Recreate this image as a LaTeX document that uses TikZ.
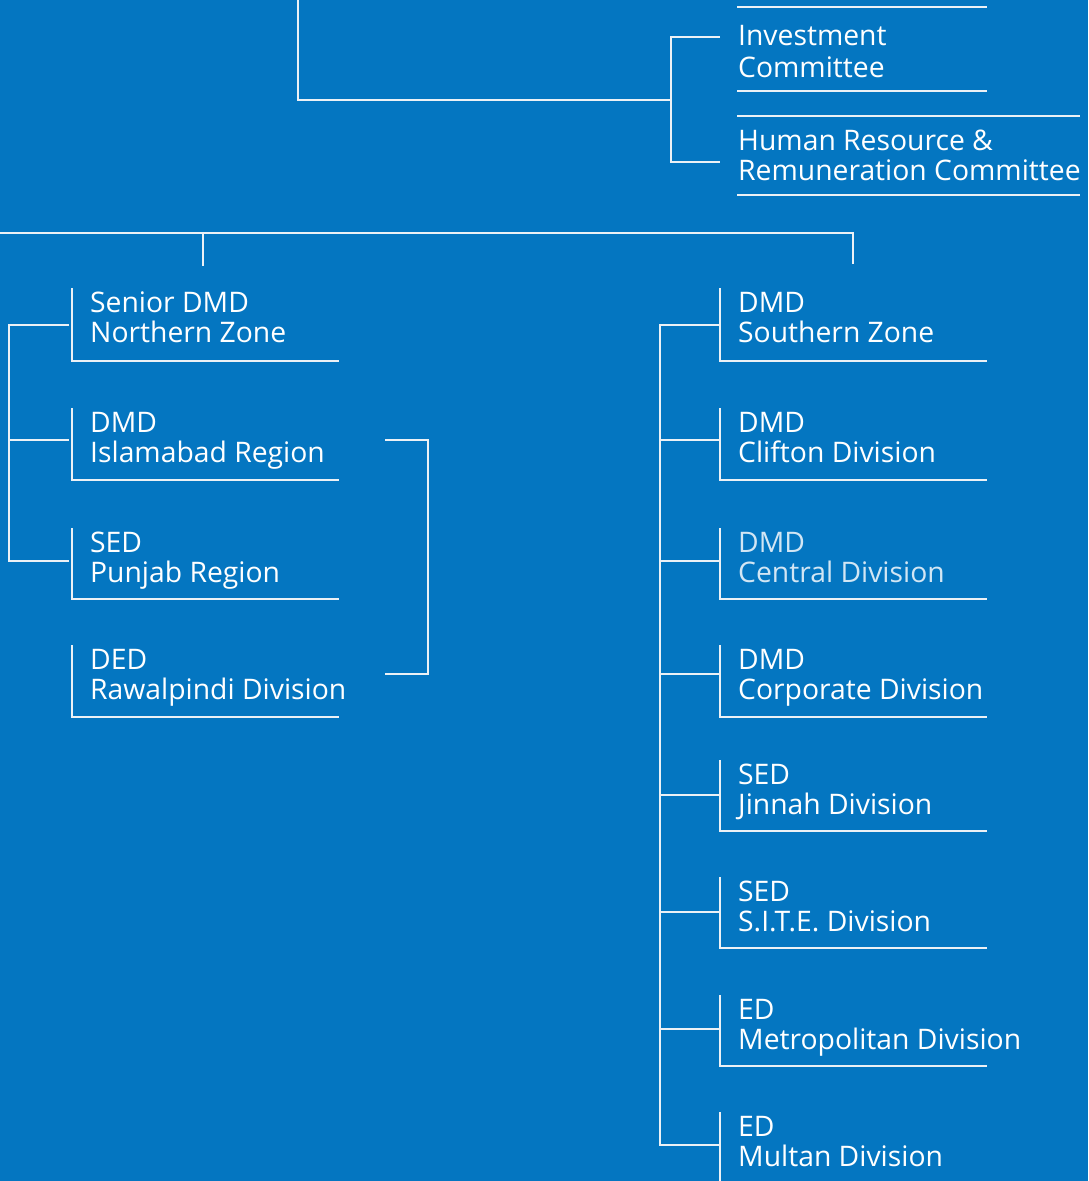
\documentclass[tikz,border=0pt]{standalone}
\usepackage{fontspec}
\setmainfont{Open Sans}
\definecolor{bg}{RGB}{4,118,193}
\definecolor{wirecol}{RGB}{236,241,246}
\tikzset{
  x=1pt, y=-1pt,
  wire/.style={draw=wirecol, line width=1.9pt},
  unitbox/.style={anchor=north west, inner sep=0pt, outer sep=0pt, rectangle, draw=none},
  txtline/.style={anchor=base west, inner sep=0pt, text=white, font=\fontsize{28.3}{30}\selectfont},
}
% name, x, top, bottom, right, connector offset, line1, line2
\newcommand\orgunit[8]{%
  \node[unitbox, minimum width={(#5-#2)*1pt}, minimum height={(#4-#3)*1pt}] (#1) at (#2,#3) {};
  \draw[wire] (#1.north west) |- (#1.south east);
  \coordinate (#1-c) at ([yshift=-#6pt]#1.north west);
  \node[txtline] (#1-a) at ([xshift=18pt,yshift=-24pt]#1.north west) {#7};
  \node[txtline] (#1-b) at ([xshift=18pt,yshift=-54pt]#1.north west) {#8};
}
% name, x, top, bottom, right, off1, off2, line1, line2
\newcommand\committee[9]{%
  \node[unitbox, minimum width={(#5-#2)*1pt}, minimum height={(#4-#3)*1pt}] (#1) at (#2,#3) {};
  \draw[wire] (#1.north west) -- (#1.north east);
  \draw[wire] (#1.south west) -- (#1.south east);
  \node[txtline] (#1-a) at ([xshift=1pt,yshift=-#6pt]#1.north west) {#8};
  \node[txtline] (#1-b) at ([xshift=1pt,yshift=-#7pt]#1.north west) {#9};
}
\begin{document}
\begin{tikzpicture}
\useasboundingbox (0,0) rectangle (1088,1181);
\fill[bg] (0,0) rectangle (1088,1181);

% committees
\committee{ic}{737}{7}{91}{987}{38}{70}{Investment}{Committee}
\committee{hr}{737}{116}{195}{1080}{34}{64}{Human Resource \&}{Remuneration Committee}
\coordinate (ic-in) at ([xshift=-17pt,yshift=-30pt]ic.north west);
\coordinate (hr-in) at ([xshift=-17pt,yshift=-46pt]hr.north west);
\coordinate (topin) at (298,0);
\coordinate (hub) at (671,100);
\draw[wire] (ic-in) -- ++(-49,0) |- (hr-in);
\draw[wire] (topin) |- (hub);

% middle bus
\coordinate (mbl) at (0,233);
\coordinate (mbr) at (853,233);
\coordinate (mbd) at (203,233);
\draw[wire] (mbl) -- (mbr) -- ++(0,31);
\draw[wire] (mbd) -- ++(0,33);

% left column
\orgunit{nz}{72}{288}{361}{339}{37}{Senior DMD}{Northern Zone}
\orgunit{ir}{72}{408}{480}{339}{32}{DMD}{Islamabad Region}
\orgunit{pr}{72}{528}{599}{339}{33}{SED}{Punjab Region}
\orgunit{rd}{72}{645}{717}{339}{29}{DED}{Rawalpindi Division}
\draw[wire] ([xshift=-3pt]nz-c) -- ++(-60,0) |- ([xshift=-3pt]pr-c);
\draw[wire] ([xshift=-63pt]ir-c) -- ([xshift=-3pt]ir-c);
\draw[wire] ([xshift=313pt]ir-c) -- ++(43,0) |- ([xshift=313pt]rd-c);

% right column
\orgunit{sz}{720}{288}{361}{987}{37}{DMD}{Southern Zone}
\orgunit{cd}{720}{408}{480}{987}{32}{DMD}{Clifton Division}
\orgunit{ce}{720}{528}{599}{987}{33}{\textcolor{white!82!bg}{DMD}}{\textcolor{white!82!bg}{Central Division}}
\orgunit{co}{720}{645}{717}{987}{29}{DMD}{Corporate Division}
\orgunit{jd}{720}{760}{831}{987}{35}{SED}{Jinnah Division}
\orgunit{sd}{720}{877}{948}{987}{35}{SED}{S.I.T.E. Division}
\orgunit{md}{720}{995}{1066}{987}{34}{ED}{Metropolitan Division}
\orgunit{mu}{720}{1112}{1200}{987}{33}{ED}{Multan Division}
\draw[wire] (sz-c) -- ++(-60,0) |- (mu-c);
\foreach \u in {cd,ce,co,jd,sd,md}{
  \draw[wire] ([xshift=-60pt]\u-c) -- (\u-c);
}
\end{tikzpicture}
\end{document}
